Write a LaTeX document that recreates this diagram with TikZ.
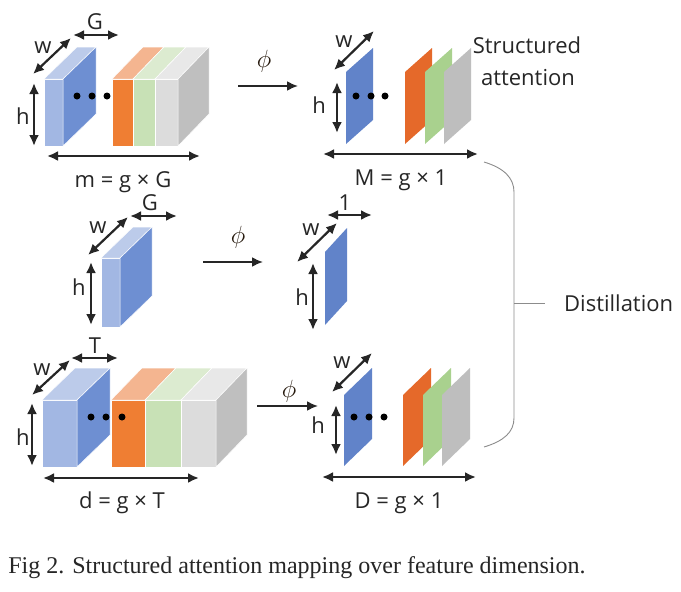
\documentclass[tikz,border=0pt]{standalone}
\usepackage{fontspec}
\setmainfont{Liberation Serif}
\newfontfamily\dimfont{Open Sans}
\usetikzlibrary{arrows.meta}

\definecolor{blueFront}{HTML}{A2B7E3}
\definecolor{blueTop}{HTML}{BCCBEA}
\definecolor{blueSide}{HTML}{6E8FD2}
\definecolor{orangeFront}{HTML}{EF7E33}
\definecolor{orangeTop}{HTML}{F4B590}
\definecolor{greenFront}{HTML}{C8E1B6}
\definecolor{greenTop}{HTML}{DCEBD0}
\definecolor{grayFront}{HTML}{DCDCDC}
\definecolor{grayTop}{HTML}{E8E8E8}
\definecolor{graySide}{HTML}{BFBFBF}
\definecolor{sheetBlue}{HTML}{6183C9}
\definecolor{sheetOrange}{HTML}{E5692A}
\definecolor{sheetGreen}{HTML}{A9D18E}
\definecolor{sheetGray}{HTML}{BEBEBE}

% one slice of a cuboid: x-left, x-right, y-top, y-bottom, front colour, top colour
\newcommand{\cubeslice}[6]{%
  \filldraw[#5, draw=white, line width=0.5pt] (#1,#3) rectangle (#2,#4);
  \filldraw[#6, draw=white, line width=0.5pt]
    (#1,#3) -- (#2,#3) -- ++(\offx,\offy) -- ++(#1-#2,0) -- cycle;
}
% right face of a cuboid: x, y-top, y-bottom, colour
\newcommand{\cubeside}[4]{%
  \filldraw[#4, draw=white, line width=0.5pt]
    (#1,#2) -- (#1,#3) -- ++(\offx,\offy) -- ++(0,#2-#3) -- cycle;
}
% flat attention map: x-left, y-top, y-bottom, colour
\newcommand{\attsheet}[4]{%
  \fill[#4] (#1,#3) -- (#1,#2) -- ++(\offx,\offy) -- ++(0,#3-#2) -- cycle;
}

\begin{document}
\begin{tikzpicture}[
  x=1pt, y=-1pt,
  dim/.style={{Latex[length=11pt,width=10pt]}-{Latex[length=11pt,width=10pt]},
              line width=2.2pt, black!85},
  map/.style={-{Latex[length=11pt,width=10pt]}, line width=2pt, black!85},
  lbl/.style={font=\dimfont\fontsize{22}{26}\selectfont, text=black!85,
              anchor=base, inner sep=0pt},
  philbl/.style={font=\fontsize{24}{28}\selectfont, text=black!80!brown,
                 inner sep=0pt},
  dot/.style={circle, fill=black, inner sep=0pt, minimum size=7pt},
  brace/.style={draw=gray!90, line width=0.9pt}
]
\useasboundingbox[fill=white] (0,0) rectangle (681,592);

% --- Teacher feature block (top left) ---
\def\offx{33}\def\offy{-32}
\cubeslice{44}{63}{79}{146}{blueFront}{blueTop}
\cubeside{63}{79}{146}{blueSide}
\def\offx{31}
\cubeslice{112}{133}{79}{146}{orangeFront}{orangeTop}
\cubeslice{133}{155}{79}{146}{greenFront}{greenTop}
\cubeslice{155}{178}{79}{146}{grayFront}{grayTop}
\cubeside{178}{79}{146}{graySide}
\foreach \i/\xpos in {1/77, 2/92, 3/107}{
  \node[dot] (dotM\i) at (\xpos,96) {};
}
\draw[dim] (33,74) -- (71,38);
\draw[dim] (73,35) -- (119,35);
\draw[dim] (34,83) -- (34,146);
\draw[dim] (47,156) -- (200,156);
\node[lbl] (wM) at (43,53) {w};
\node[lbl] (gM) at (95,29) {G};
\node[lbl] (hM) at (23,124) {h};
\node[lbl] (labM) at (123,187) {m = g × G};

% --- Mapping, top row ---
\coordinate (phiAs) at (238,86);
\coordinate (phiAe) at (298,86);
\draw[map] (phiAs) -- (phiAe);
\node[philbl] (phiA) at (264,61) {$\phi$};

% --- Structured attention (top right) ---
\def\offx{27}\def\offy{-24}
\foreach \xpos/\col in {346/sheetBlue, 405/sheetOrange, 425/sheetGreen, 444/sheetGray}{
  \attsheet{\xpos}{72}{144}{\col}
}
\foreach \i/\xpos in {1/356, 2/371, 3/385}{
  \node[dot] (dotMM\i) at (\xpos,96) {};
}
\draw[dim] (334,70) -- (374,31);
\draw[dim] (337,82) -- (337,133);
\draw[dim] (323,154) -- (478,154);
\node[lbl] (wMM) at (344,47) {w};
\node[lbl] (hMM) at (319,113) {h};
\node[lbl] (labMM) at (401,185) {M = g × 1};
\node[lbl] (struct) at (527,53) {Structured};
\node[lbl] (attn) at (528,85) {attention};

% --- Single group (middle row) ---
\def\offx{32}\def\offy{-31}
\cubeslice{101}{120}{258}{327}{blueFront}{blueTop}
\cubeside{120}{258}{327}{blueSide}
\draw[dim] (88,255) -- (128,217);
\draw[dim] (130,216) -- (177,216);
\draw[dim] (91,262) -- (91,325);
\node[lbl] (wG) at (98,233) {w};
\node[lbl] (gG) at (150,210) {G};
\node[lbl] (hG) at (79,295) {h};

\coordinate (phiBs) at (203,262);
\coordinate (phiBe) at (263,262);
\draw[map] (phiBs) -- (phiBe);
\node[philbl] (phiB) at (238,237) {$\phi$};

\def\offx{22}\def\offy{-24}
\attsheet{325}{252}{325}{sheetBlue}
\draw[dim] (297,262) -- (337,223);
\draw[dim] (327,215) -- (372,215);
\draw[dim] (313,263) -- (313,330);
\node[lbl] (wS) at (311,235) {w};
\node[lbl] (oneS) at (345,210) {1};
\node[lbl] (hS) at (302,305) {h};

% --- Student feature block (bottom left) ---
\def\offx{33}\def\offy{-32}
\cubeslice{42}{77}{400}{467}{blueFront}{blueTop}
\cubeside{77}{400}{467}{blueSide}
\def\offx{31}
\cubeslice{111}{145}{400}{467}{orangeFront}{orangeTop}
\cubeslice{145}{181}{400}{467}{greenFront}{greenTop}
\cubeslice{181}{216}{400}{467}{grayFront}{grayTop}
\cubeside{216}{400}{467}{graySide}
\foreach \i/\xpos in {1/91, 2/106, 3/122}{
  \node[dot] (dotD\i) at (\xpos,417) {};
}
\draw[dim] (32,395) -- (70,360);
\draw[dim] (71,358) -- (118,358);
\draw[dim] (32,403) -- (32,466);
\draw[dim] (43,478) -- (199,478);
\node[lbl] (wD) at (42,375) {w};
\node[lbl] (tD) at (95,353) {T};
\node[lbl] (hD) at (23,445) {h};
\node[lbl] (labD) at (122,508) {d = g × T};

% --- Mapping, bottom row ---
\coordinate (phiCs) at (257,406);
\coordinate (phiCe) at (318,406);
\draw[map] (phiCs) -- (phiCe);
\node[philbl] (phiC) at (289,391) {$\phi$};

% --- Student attention (bottom right) ---
\def\offx{28}\def\offy{-27}
\foreach \xpos/\col in {344/sheetBlue, 403/sheetOrange, 423/sheetGreen, 442/sheetGray}{
  \attsheet{\xpos}{395}{466}{\col}
}
\foreach \i/\xpos in {1/354, 2/369, 3/384}{
  \node[dot] (dotDD\i) at (\xpos,417) {};
}
\draw[dim] (332,392) -- (372,353);
\draw[dim] (336,405) -- (336,455);
\draw[dim] (322,477) -- (476,477);
\node[lbl] (wDD) at (342,368) {w};
\node[lbl] (hDD) at (318,433) {h};
\node[lbl] (labDD) at (399,508) {D = g × 1};

% --- Distillation bracket ---
\coordinate (brTop) at (484,162);
\coordinate (brBot) at (484,447);
\coordinate (brMid) at (514,303);
\draw[brace] (brTop) .. controls (504,168) and (514,178) .. (514,192)
  -- (514,418) .. controls (514,432) and (504,441) .. (brBot);
\node[lbl, anchor=west] (distil) at (564,303) {Distillation};
\draw[brace] (brMid) -- (distil.west -| 545,303);

% --- Caption ---
\node[font=\fontsize{24}{28}\selectfont, anchor=base, text=black!85,
      inner sep=0pt] (caption) at (297,573)
  {Fig 2. Structured attention mapping over feature dimension.};

\end{tikzpicture}
\end{document}
